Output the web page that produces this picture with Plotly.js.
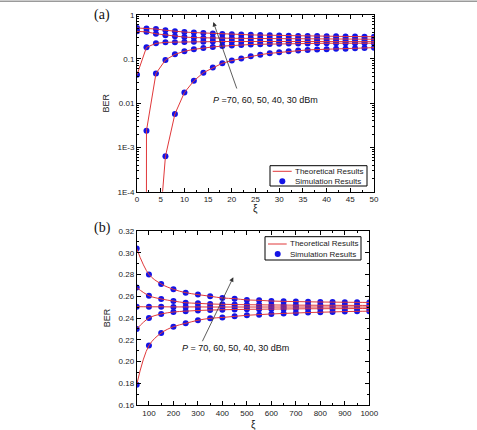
<!DOCTYPE html>
<html>
<head>
<meta charset="utf-8">
<script src="https://cdn.plot.ly/plotly-3.0.1.min.js"></script>
<style>html,body{margin:0;padding:0;background:#fff;}#chart{width:477px;height:430px;}</style>
</head>
<body>
<div id="chart"></div>
<script>
// ---------- Panel (a): BER vs xi (log scale) ----------
const xiA = [0,2,4,6,8,10,12,14,16,18,20,22,24,26,28,30,32,34,36,38,40,42,44,46,48,50];
const berA_P70 = [0.50,0.49,0.475,0.445,0.42,0.405,0.395,0.385,0.375,0.367,0.36,0.355,0.35,0.346,0.342,0.338,0.335,0.332,0.33,0.328,0.326,0.324,0.322,0.321,0.319,0.318];
const berA_P60 = [0.42,0.41,0.37,0.345,0.325,0.312,0.304,0.299,0.296,0.294,0.293,0.292,0.291,0.29,0.289,0.288,0.287,0.286,0.285,0.284,0.283,0.282,0.281,0.28,0.28,0.279];
const berA_P50 = [0.044,0.183,0.225,0.237,0.24,0.243,0.245,0.246,0.247,0.248,0.248,0.249,0.249,0.249,0.249,0.249,0.249,0.248,0.248,0.248,0.247,0.247,0.247,0.246,0.246,0.246];
const berA_P40 = [null,0.0024,0.047,0.095,0.127,0.149,0.165,0.177,0.187,0.195,0.202,0.207,0.212,0.215,0.218,0.22,0.222,0.223,0.224,0.225,0.226,0.226,0.227,0.227,0.227,0.227];
const berA_P30 = [null,null,null,0.00063,0.0057,0.0174,0.032,0.049,0.064,0.080,0.092,0.103,0.115,0.125,0.134,0.141,0.149,0.155,0.16,0.163,0.166,0.169,0.171,0.174,0.177,0.18];
// theoretical curves plunge below the axis (BER -> 0) just before their first simulated point
const plungeX_P40 = [1.98];
const plungeY_P40 = [1e-6];
const plungeX_P30 = [5.3, 5.4];
const plungeY_P30 = [1e-6, 1e-4];

// ---------- Panel (b): BER vs xi (linear) ----------
const xiB = [50,100,150,200,250,300,350,400,450,500,550,600,650,700,750,800,850,900,950,1000];
const berB_1 = [0.3038,0.2801,0.2713,0.2664,0.2633,0.2615,0.2600,0.2584,0.2578,0.2566,0.2563,0.2556,0.2553,0.2551,0.2549,0.2547,0.2546,0.2545,0.2544,0.2543];
const berB_2 = [0.2680,0.2605,0.2575,0.2556,0.2540,0.2535,0.2529,0.2526,0.2524,0.2522,0.2521,0.2520,0.2519,0.2518,0.2518,0.2517,0.2517,0.2516,0.2516,0.2515];
const berB_3 = [0.2504,0.2503,0.2503,0.2502,0.2502,0.2502,0.2501,0.2501,0.2501,0.2501,0.2501,0.2501,0.2501,0.2501,0.2501,0.2501,0.2501,0.2501,0.2501,0.2501];
const berB_4 = [0.2299,0.2400,0.2437,0.2455,0.2463,0.2469,0.2473,0.2476,0.2478,0.2480,0.2481,0.2482,0.2483,0.2484,0.2485,0.2485,0.2486,0.2486,0.2487,0.2487];
const berB_5 = [0.1787,0.2146,0.2262,0.2320,0.2351,0.2379,0.2397,0.2405,0.2415,0.2425,0.2431,0.2437,0.2442,0.2446,0.2450,0.2453,0.2456,0.2459,0.2461,0.2463];

const logTickVals = [1e-4,1e-3,0.01,0.1,1];
const logTickText = ['1E-4','1E-3','0.01','0.1','1'];
const theoName = 'Theoretical Results';
const simName = 'Simulation Results';
const panelLabels = ['(a)','(b)'];
const xTitle = 'ξ';
const arrowText = ['<i>P</i> =70, 60, 50, 40, 30 dBm','<i>P</i> = 70, 60, 50, 40, 30 dBm'];

const RED = '#e0383a', BLUE = '#1414e6';
const FONT = 'Liberation Sans, Arial, sans-serif';
const W = 477, H = 430;
const px = v => v / W;          // page pixel -> paper x
const py = v => 1 - v / H;      // page pixel -> paper y

function dropNull(xs, ys){
  const ox=[], oy=[];
  xs.forEach((x,i)=>{ if(ys[i]!==null){ox.push(x); oy.push(ys[i]);} });
  return [ox, oy];
}

const traces = [];
const seriesA = [
  {y:berA_P70, lx:[], ly:[]},
  {y:berA_P60, lx:[], ly:[]},
  {y:berA_P50, lx:[], ly:[]},
  {y:berA_P40, lx:plungeX_P40, ly:plungeY_P40},
  {y:berA_P30, lx:plungeX_P30, ly:plungeY_P30}
];
seriesA.forEach(s=>{
  const [sx, sy] = dropNull(xiA, s.y);
  traces.push({x:sx, y:sy, xaxis:'x', yaxis:'y', mode:'markers', type:'scatter',
    marker:{color:BLUE, size:6}, name:simName, showlegend:false});
});
seriesA.forEach(s=>{
  const [sx, sy] = dropNull(xiA, s.y);
  traces.push({x:s.lx.concat(sx), y:s.ly.concat(sy), xaxis:'x', yaxis:'y', mode:'lines', type:'scatter',
    line:{color:RED, width:1}, name:theoName, showlegend:false});
});
const seriesB = [berB_1, berB_2, berB_3, berB_4, berB_5];
seriesB.forEach(s=>{
  traces.push({x:xiB, y:s, xaxis:'x2', yaxis:'y2', mode:'markers', type:'scatter',
    marker:{color:BLUE, size:6}, name:simName, showlegend:false});
});
seriesB.forEach(s=>{
  traces.push({x:xiB, y:s, xaxis:'x2', yaxis:'y2', mode:'lines', type:'scatter',
    line:{color:RED, width:1, shape:'spline', smoothing:1}, name:theoName, showlegend:false});
});

const minorLog = [];
for (let d=-4; d<0; d++) for (let k=2; k<=9; k++) minorLog.push(k*Math.pow(10,d));

const axisCommon = {
  showline:true, mirror:'allticks', linecolor:'#000', linewidth:1,
  ticks:'inside', ticklen:4, tickwidth:1, tickcolor:'#000',
  showgrid:false, zeroline:false, tickfont:{family:FONT, size:8, color:'#222'},
  automargin:false
};

// compact boxed legends (drawn as layout decorations)
function legendBox(box, lineRow, dotRow, textX){
  const shapes = [
    {type:'rect', xref:'paper', yref:'paper', x0:px(box[0]), x1:px(box[2]), y0:py(box[3]), y1:py(box[1]),
      line:{color:'#000', width:1}, fillcolor:'#fff', layer:'above'},
    {type:'line', xref:'paper', yref:'paper', x0:px(lineRow[0]), x1:px(lineRow[1]), y0:py(lineRow[2]), y1:py(lineRow[2]),
      line:{color:RED, width:1}, layer:'above'},
    {type:'circle', xref:'paper', yref:'paper', x0:px(dotRow[0]-3), x1:px(dotRow[0]+3), y0:py(dotRow[1]+3), y1:py(dotRow[1]-3),
      line:{color:BLUE, width:0}, fillcolor:BLUE, layer:'above'}
  ];
  const anns = [
    {xref:'paper', yref:'paper', x:px(textX), y:py(lineRow[2]), text:theoName, showarrow:false,
      xanchor:'left', yanchor:'middle', font:{family:FONT, size:8, color:'#222'}},
    {xref:'paper', yref:'paper', x:px(textX), y:py(dotRow[1]), text:simName, showarrow:false,
      xanchor:'left', yanchor:'middle', font:{family:FONT, size:8, color:'#222'}}
  ];
  return {shapes, anns};
}
const legA = legendBox([270,165.7,367,186], [272.7,291.7,171.3], [282.3,181.2], 293);
const legB = legendBox([265,236.7,361,260], [268,286.7,244], [277.7,254], 288);

const layout = {
  width:W, height:H,
  margin:{l:0,r:0,t:0,b:0},
  paper_bgcolor:'#fff', plot_bgcolor:'#fff',
  font:{family:FONT, color:'#222'},
  showlegend:false,
  xaxis: Object.assign({}, axisCommon, {
    domain:[px(137), px(374)], anchor:'y', range:[0,50], tick0:0, dtick:5,
    minor:{ticks:'inside', ticklen:2, dtick:2.5, tick0:0, tickcolor:'#000'}
  }),
  yaxis: Object.assign({}, axisCommon, {
    domain:[py(191.7), py(14.7)], anchor:'x', type:'log', range:[-4,0],
    tickmode:'array', tickvals:logTickVals, ticktext:logTickText,
    minor:{ticks:'inside', ticklen:2, tickmode:'array', tickvals:minorLog, tickcolor:'#000'},
    title:{text:'BER', font:{family:FONT, size:9}, standoff:6}
  }),
  xaxis2: Object.assign({}, axisCommon, {
    domain:[px(136.7), px(369.3)], anchor:'y2', range:[50,1000], tick0:0, dtick:100,
    minor:{ticks:'inside', ticklen:2, dtick:50, tick0:0, tickcolor:'#000'}
  }),
  yaxis2: Object.assign({}, axisCommon, {
    domain:[py(405), py(231)], anchor:'x2', range:[0.16,0.32], tick0:0.16, dtick:0.02,
    tickformat:'.2f',
    minor:{ticks:'inside', ticklen:2, dtick:0.01, tick0:0.16, tickcolor:'#000'},
    title:{text:'BER', font:{family:FONT, size:9}, standoff:6}
  }),
  annotations:[
    {xref:'paper', yref:'paper', x:px(102), y:py(14.5), text:panelLabels[0], showarrow:false,
      font:{family:'Liberation Serif, Times New Roman, serif', size:14, color:'#111'}, xanchor:'center', yanchor:'middle'},
    {xref:'paper', yref:'paper', x:px(102), y:py(228), text:panelLabels[1], showarrow:false,
      font:{family:'Liberation Serif, Times New Roman, serif', size:14, color:'#111'}, xanchor:'center', yanchor:'middle'},
    {xref:'paper', yref:'paper', x:px(255.5), y:py(209), text:xTitle, showarrow:false,
      xanchor:'center', yanchor:'middle', font:{family:FONT, size:10, color:'#222'}},
    {xref:'paper', yref:'paper', x:px(253), y:py(424.5), text:xTitle, showarrow:false,
      xanchor:'center', yanchor:'middle', font:{family:FONT, size:10, color:'#222'}},
    {xref:'x', yref:'y', x:16.1, y:-0.165, ax:24, ay:68, axref:'pixel', ayref:'pixel', text:'',
      showarrow:true, arrowhead:2, arrowsize:1.1, arrowwidth:0.8, arrowcolor:'#333'},
    {xref:'paper', yref:'paper', x:px(211), y:py(99.5), text:arrowText[0], showarrow:false,
      xanchor:'left', yanchor:'middle', font:{family:FONT, size:9, color:'#111'}},
    {xref:'x2', yref:'y2', x:444.5, y:0.2774, ax:-31.6, ay:65.4, axref:'pixel', ayref:'pixel', text:'',
      showarrow:true, arrowhead:2, arrowsize:1.1, arrowwidth:0.8, arrowcolor:'#333'},
    {xref:'paper', yref:'paper', x:px(180), y:py(348), text:arrowText[1], showarrow:false,
      xanchor:'left', yanchor:'middle', font:{family:FONT, size:9, color:'#111'}}
  ].concat(legA.anns, legB.anns),
  shapes:[
    {type:'line', xref:'paper', yref:'paper', x0:0, x1:1, y0:py(1.2), y1:py(1.2),
      line:{color:'#9a9a9a', width:1.5}}
  ].concat(legA.shapes, legB.shapes)
};

Plotly.newPlot('chart', traces, layout, {displayModeBar:false, staticPlot:true});
</script>
</body>
</html>
